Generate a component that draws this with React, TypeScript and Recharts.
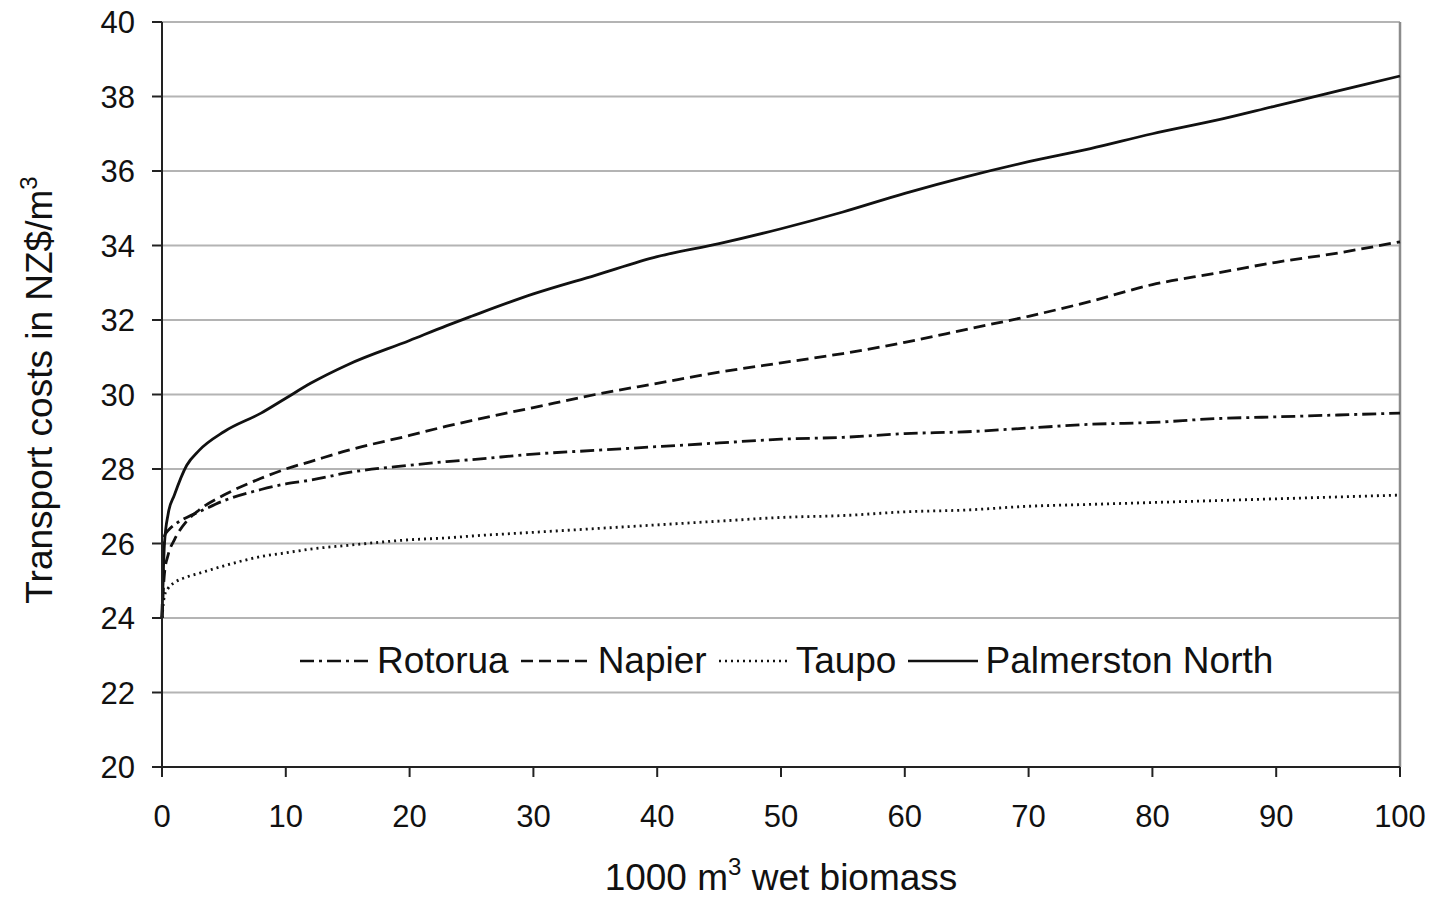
import { LineChart, Line, XAxis, YAxis, CartesianGrid, ReferenceLine, Label } from "recharts";

const FONT = "'Liberation Sans', Arial, sans-serif";

const biomass = [0, 0.2, 0.5, 1, 2, 3, 5, 8, 10, 12, 15, 20, 23, 25, 30, 35, 40, 45, 50, 55, 60, 65, 70, 75, 80, 85, 90, 95, 100];
const rotorua = [24, 26.2, 26.35, 26.5, 26.7, 26.85, 27.15, 27.45, 27.6, 27.7, 27.9, 28.1, 28.2, 28.25, 28.4, 28.5, 28.6, 28.7, 28.8, 28.85, 28.95, 29.0, 29.1, 29.2, 29.25, 29.35, 29.4, 29.45, 29.5];
const napier = [24, 25.2, 25.7, 26.1, 26.6, 26.9, 27.3, 27.75, 28.0, 28.2, 28.5, 28.9, 29.15, 29.3, 29.65, 30.0, 30.3, 30.6, 30.85, 31.1, 31.4, 31.75, 32.1, 32.5, 32.95, 33.25, 33.55, 33.8, 34.1];
const taupo = [24, 24.6, 24.8, 24.95, 25.1, 25.2, 25.4, 25.65, 25.75, 25.85, 25.95, 26.1, 26.15, 26.2, 26.3, 26.4, 26.5, 26.6, 26.7, 26.75, 26.85, 26.9, 27.0, 27.05, 27.1, 27.15, 27.2, 27.25, 27.3];
const palmerston = [24, 26, 26.8, 27.3, 28.1, 28.5, 29, 29.5, 29.9, 30.3, 30.8, 31.45, 31.85, 32.1, 32.7, 33.2, 33.7, 34.05, 34.45, 34.9, 35.4, 35.85, 36.25, 36.6, 37, 37.35, 37.75, 38.15, 38.55];

const xTicks = [0, 10, 20, 30, 40, 50, 60, 70, 80, 90, 100];
const yTicks = [20, 22, 24, 26, 28, 30, 32, 34, 36, 38, 40];

const series = [
  { key: "rotorua", name: "Rotorua", dash: "14 5 3 5" },
  { key: "napier", name: "Napier", dash: "12 6" },
  { key: "taupo", name: "Taupo", dash: "2 4" },
  { key: "palmerston", name: "Palmerston North", dash: undefined },
];

const data = biomass.map((x, i) => ({
  x,
  rotorua: rotorua[i],
  napier: napier[i],
  taupo: taupo[i],
  palmerston: palmerston[i],
}));

// legend sits inside the plot, drawn outside recharts so it doesn't eat layout space
const ChartLegend = () => (
  <div
    style={{
      position: "absolute",
      left: 300,
      top: 640,
      display: "flex",
      alignItems: "center",
      fontFamily: FONT,
      fontSize: 37,
      color: "#111",
      whiteSpace: "nowrap",
    }}
  >
    {series.map((s) => (
      <div key={s.key} style={{ display: "flex", alignItems: "center", marginRight: 12 }}>
        <svg width={70} height={20} style={{ marginRight: 7 }}>
          <line x1={0} y1={10} x2={70} y2={10} stroke="#111" strokeWidth={2.5} strokeDasharray={s.dash} />
        </svg>
        <span>{s.name}</span>
      </div>
    ))}
  </div>
);

const XTitle = (props: any) => {
  const { x, y, width } = props.viewBox;
  return (
    <text x={x + width / 2} y={y + 123} textAnchor="middle" fontFamily={FONT} fontSize={37} fill="#111">
      1000 m<tspan dy={-15} fontSize={24}>3</tspan><tspan dy={15}> wet biomass</tspan>
    </text>
  );
};

const YTitle = () => (
  <text x={52} y={390} transform="rotate(-90 52 390)" textAnchor="middle" fontFamily={FONT} fontSize={37} fill="#111">
    Transport costs in NZ$/m<tspan dy={-15} fontSize={24}>3</tspan>
  </text>
);

export default function App() {
  return (
    <div style={{ position: "absolute", left: 0, top: 0, width: 1436, height: 900, background: "#fff" }}>
      <LineChart width={1436} height={900} data={data} margin={{ top: 22, right: 36, bottom: 0, left: 0 }}>
        <CartesianGrid vertical={false} stroke="#b4b4b4" strokeWidth={2} />
        <ReferenceLine x={100} stroke="#8c8c8c" strokeWidth={2.5} />
        <XAxis
          dataKey="x"
          type="number"
          domain={[0, 100]}
          ticks={xTicks}
          height={133}
          tickSize={10}
          tickMargin={28}
          stroke="#222"
          strokeWidth={2}
          tick={{ fontFamily: FONT, fontSize: 31, fill: "#111" }}
        >
          <Label content={<XTitle />} />
        </XAxis>
        <YAxis
          type="number"
          domain={[20, 40]}
          ticks={yTicks}
          width={162}
          tickSize={10}
          tickMargin={17}
          stroke="#222"
          strokeWidth={2}
          tick={{ fontFamily: FONT, fontSize: 31, fill: "#111" }}
        >
          <Label content={<YTitle />} />
        </YAxis>
        {series.map((s) => (
          <Line
            key={s.key}
            dataKey={s.key}
            name={s.name}
            type="monotone"
            stroke="#111"
            strokeWidth={2.8}
            strokeDasharray={s.dash}
            dot={false}
            activeDot={false}
            isAnimationActive={false}
          />
        ))}
      </LineChart>
      <ChartLegend />
    </div>
  );
}
